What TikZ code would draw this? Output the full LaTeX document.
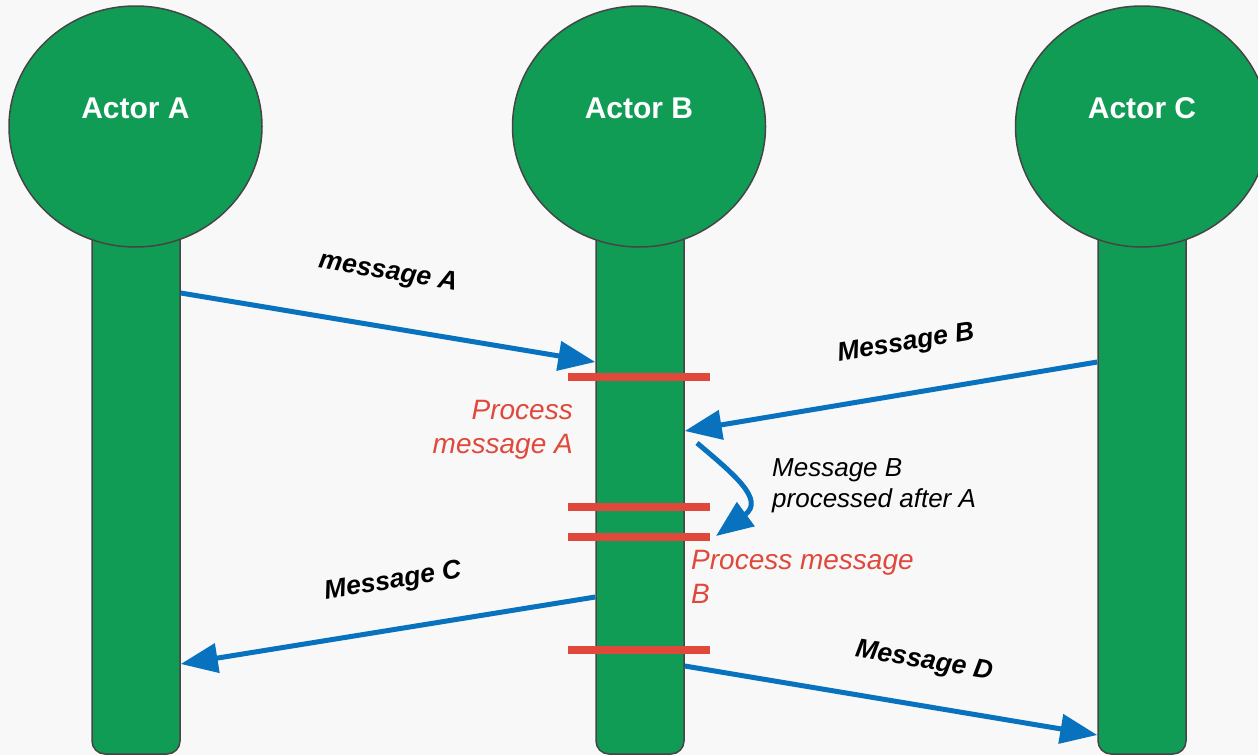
\documentclass[tikz,border=0pt]{standalone}
\usepackage{fontspec}
\setmainfont{Liberation Sans}
\usetikzlibrary{shapes.geometric,arrows.meta}
\definecolor{bg}{HTML}{F8F8F8}
\definecolor{actgreen}{HTML}{119C56}
\definecolor{edge}{HTML}{454545}
\definecolor{msgblue}{HTML}{0872BF}
\definecolor{procred}{HTML}{E0483B}
\tikzset{
  actor/.style={ellipse, draw=edge, line width=1.5pt, fill=actgreen,
    minimum width=253pt, minimum height=241pt, inner sep=0pt},
  actorlabel/.style={text=white, font=\bfseries\fontsize{30}{34}\selectfont},
  lifeline/.style={draw=edge, line width=1.5pt, fill=actgreen, rounded corners=13pt,
    minimum width=88pt, minimum height=534pt, inner sep=0pt},
  msg/.style={draw=msgblue, line width=5pt,
    -{Triangle[length=37pt,width=29pt]}},
  msglabel/.style={font=\bfseries\itshape\fontsize{26.5}{30}\selectfont, inner sep=0pt},
  procbar/.style={draw=procred, line width=7.5pt},
  proclabel/.style={text=procred, font=\itshape\fontsize{28}{34.5}\selectfont, inner sep=0pt},
  notelabel/.style={font=\itshape\fontsize{26}{31}\selectfont, inner sep=0pt}
}
\begin{document}
\begin{tikzpicture}[x=1pt, y=-1pt]
  \useasboundingbox (0,0) rectangle (1258,755);
  \fill[bg] (0,0) rectangle (1258,755);

  % lifelines behind the actor heads
  \node[lifeline] (barA) at (136,487) {};
  \node[lifeline] (barB) at (640,487) {};
  \node[lifeline] (barC) at (1142,487) {};

  % actor heads
  \node[actor] (A) at (135.5,126.5) {};
  \node[actor] (B) at (639,126.5) {};
  \node[actor] (C) at (1142,126.5) {};
  \node[actorlabel] (Alab) at (135.5,108) {Actor A};
  \node[actorlabel] (Blab) at (639,108) {Actor B};
  \node[actorlabel] (Clab) at (1142,108) {Actor C};

  % processing markers on B
  \draw[procbar] (568,377) -- (710,377);
  \draw[procbar] (568,507) -- (710,507);
  \draw[procbar] (568,537) -- (710,537);
  \draw[procbar] (568,650) -- (710,650);

  % message end points on the lifelines
  \coordinate (mAs) at (barA.east |- 0,293);
  \coordinate (mAe) at (barB.west |- 0,362);
  \coordinate (mBs) at (barC.west |- 0,362);
  \coordinate (mBe) at (barB.east |- 0,431);
  \coordinate (mCs) at (barB.west |- 0,597);
  \coordinate (mCe) at (barA.east |- 0,664);
  \coordinate (mDs) at (barB.east |- 0,666);
  \coordinate (mDe) at (barC.west |- 0,735);
  \coordinate (qs) at (697,443);
  \coordinate (qe) at (716,536);

  \draw[msg] (mAs) -- (mAe);
  \draw[msg] (mBs) -- (mBe);
  \draw[msg] (mCs) -- (mCe);
  \draw[msg] (mDs) -- (mDe);
  \draw[msg] (qs) .. controls (735,475) and (765,500) .. (qe);

  % message labels
  \node[msglabel, rotate=-9.4] (lA) at (388,273) {message A};
  \node[msglabel, rotate=9.4] (lB) at (906,344) {Message B};
  \node[msglabel, rotate=9.2] (lC) at (393,582) {Message C};
  \node[msglabel, rotate=-9.4] (lD) at (924,662) {Message D};

  % processing notes
  \node[proclabel, align=right, anchor=north east] (pA) at (573,400) {Process\\message A};
  \node[proclabel, align=left, anchor=north west] (pB) at (691,550) {Process message\\B};
  \node[notelabel, align=left, anchor=north west] (note) at (772,458) {Message B\\processed after A};
\end{tikzpicture}
\end{document}
